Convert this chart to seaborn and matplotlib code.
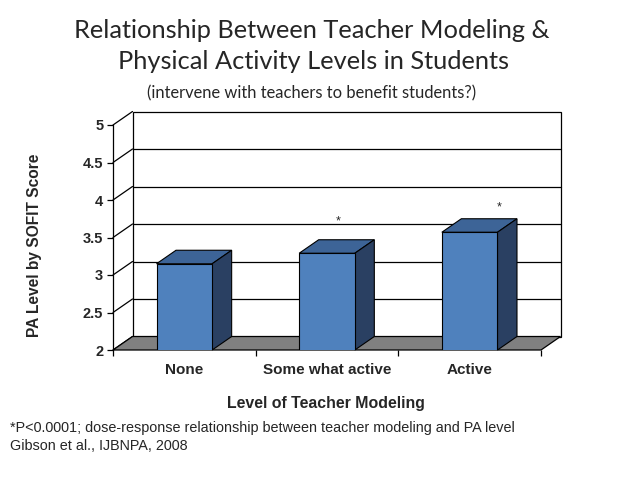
import matplotlib
matplotlib.use("Agg")
import matplotlib.pyplot as plt
from matplotlib.patches import Polygon, Rectangle
import seaborn as sns
import pandas as pd

categories = ["None", "Some what active", "Active"]
pa_scores = [3.15, 3.29, 3.57]
y_ticks = [2, 2.5, 3, 3.5, 4, 4.5, 5]
y_tick_labels = ["2", "2.5", "3", "3.5", "4", "4.5", "5"]
significant = ["", "*", "*"]

title_lines = ["Relationship Between Teacher Modeling &",
               "Physical Activity Levels in Students"]
subtitle_text = "(intervene with teachers to benefit students?)"
x_label = "Level of Teacher Modeling"
y_label = "PA Level by SOFIT Score"
footnote_lines = ["*P<0.0001; dose-response relationship between teacher modeling and PA level",
                  "Gibson et al., IJBNPA, 2008"]

front_col = "#4f81bd"
top_col = "#3d6497"
side_col = "#2a4062"
floor_col = "#808080"

sns.set_style("white")
plt.rcParams['font.family'] = ['Liberation Sans', 'DejaVu Sans']

W, H = 638, 479
fig = plt.figure(figsize=(W / 100, H / 100), dpi=100)
fig.patch.set_facecolor("white")

ax_l, ax_r, ax_t, ax_b = 113, 541, 125, 350
ax = fig.add_axes([ax_l / W, 1 - ax_b / H, (ax_r - ax_l) / W, (ax_b - ax_t) / H])
ax.set_facecolor("none")

df = pd.DataFrame({"level": categories, "score": pa_scores})
sns.barplot(data=df, x="level", y="score", order=categories, color=front_col,
            saturation=1, width=0.39, edgecolor="black", linewidth=0.8,
            ax=ax, zorder=4)

ymin, ymax = 2, 5
xmin, xmax = -0.5, len(categories) - 0.5
ax.set_xlim(xmin, xmax)
ax.set_ylim(ymin, ymax)

# depth offset (in data units), derived from pixel offsets
px_per_x = (ax_r - ax_l) / (xmax - xmin)
px_per_y = (ax_b - ax_t) / (ymax - ymin)
dx = 19.5 / px_per_x
dy = 13.5 / px_per_y

# back wall
ax.add_patch(Rectangle((xmin + dx, ymin + dy), xmax - xmin, ymax - ymin,
                       facecolor="white", edgecolor="black", lw=0.9,
                       zorder=0.5, clip_on=False))
for yv in y_ticks:
    if ymin < yv < ymax:
        ax.plot([xmin + dx, xmax + dx], [yv + dy, yv + dy], color="black",
                lw=0.9, zorder=0.6, clip_on=False)
    # side-wall diagonals
    ax.plot([xmin, xmin + dx], [yv, yv + dy], color="black", lw=0.9,
            zorder=0.6, clip_on=False)

# floor
ax.add_patch(Polygon([(xmin, ymin), (xmax, ymin), (xmax + dx, ymin + dy),
                      (xmin + dx, ymin + dy)], closed=True,
                     facecolor=floor_col, edgecolor="black", lw=0.9,
                     zorder=1, clip_on=False))

# 3D faces of bars, derived from the bar patches
for p in ax.patches[:len(categories)]:
    x0 = p.get_x()
    x1 = x0 + p.get_width()
    h = p.get_y() + p.get_height()
    ax.add_patch(Polygon([(x0, h), (x1, h), (x1 + dx, h + dy), (x0 + dx, h + dy)],
                         closed=True, facecolor=top_col, edgecolor="black",
                         lw=0.8, zorder=3, clip_on=False))
    ax.add_patch(Polygon([(x1, ymin), (x1 + dx, ymin + dy), (x1 + dx, h + dy), (x1, h)],
                         closed=True, facecolor=side_col, edgecolor="black",
                         lw=0.8, zorder=3, clip_on=False))

# significance markers
star_offsets = [(0, 0), (0.08, 0.42), (0.21, 0.33)]
for i, (s, v) in enumerate(zip(significant, pa_scores)):
    if s:
        ox, oy = star_offsets[i]
        ax.text(i + ox, v + oy, s, ha="center", va="center", fontsize=9,
                zorder=5)

# axes styling
for side in ["top", "right", "bottom"]:
    ax.spines[side].set_visible(False)
ax.spines["left"].set_linewidth(0.9)
ax.spines["left"].set_color("black")
ax.set_yticks(y_ticks)
ax.set_yticklabels(y_tick_labels, fontsize=10.5, fontweight="bold")
ax.tick_params(axis="y", which="major", length=4, width=0.9, pad=3,
               color="black", left=True)
ax.set_xticks(range(len(categories)))
ax.set_xticklabels(categories, fontsize=11, fontweight="bold")
ax.set_xticks([xmin + k for k in range(len(categories) + 1)], minor=True)
ax.tick_params(axis="x", which="major", length=0, pad=9)
ax.tick_params(axis="x", which="minor", length=4, width=0.9, color="black",
               bottom=True, direction="out")
ax.set_xlabel("")
ax.set_ylabel("")
ax.grid(False)

fig.text(326 / W, 1 - 408 / H, x_label, ha="center", va="baseline",
         fontsize=11.4, fontweight="bold")
fig.text(35 / W, 1 - 245 / H, y_label, ha="center", va="center",
         rotation=90, fontsize=11.2, fontweight="bold")

title_font = ["Lato", "DejaVu Sans"]
fig.text(312 / W, 1 - 38 / H, title_lines[0], ha="center", va="baseline",
         fontsize=18.3, family=title_font)
fig.text(314 / W, 1 - 69 / H, title_lines[1], ha="center", va="baseline",
         fontsize=18.3, family=title_font)
fig.text(312 / W, 1 - 98 / H, subtitle_text, ha="center", va="baseline",
         fontsize=11.9, family=title_font)

fig.text(10 / W, 1 - 432 / H, footnote_lines[0], ha="left", va="baseline",
         fontsize=10.4)
fig.text(10 / W, 1 - 450 / H, footnote_lines[1], ha="left", va="baseline",
         fontsize=10.4)

fig.savefig("out.png", dpi=100)
